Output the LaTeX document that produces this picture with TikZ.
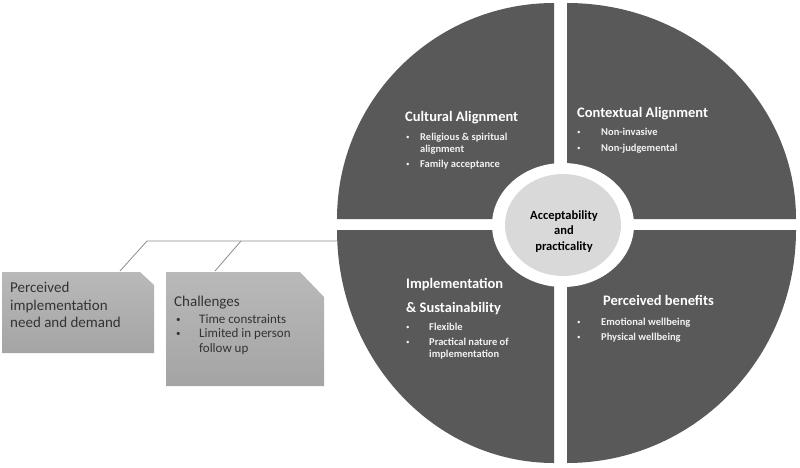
\documentclass[tikz,border=0pt]{standalone}
\usepackage{fontspec}
\setmainfont{Carlito}
\definecolor{quad}{HTML}{595959}
\definecolor{hub}{HTML}{D9D9D9}
\definecolor{boxtop}{HTML}{B9B9B9}
\definecolor{boxbot}{HTML}{A4A4A4}
\definecolor{wire}{HTML}{8C8C8C}
\definecolor{bullettxt}{HTML}{F2F2F2}
\tikzset{
  qtitle/.style={anchor=base west, inner sep=0pt, text=white, font=\fontsize{14.5}{17}\selectfont\bfseries},
  qitem/.style={anchor=base west, inner sep=0pt, text=bullettxt, font=\fontsize{10.5}{12}\selectfont\bfseries},
  qdot/.style={anchor=base west, inner sep=0pt, text=bullettxt, font=\fontsize{7}{8}\selectfont},
  hubtxt/.style={anchor=base, inner sep=0pt, text=black, font=\fontsize{12.5}{15}\selectfont\bfseries},
  btxt/.style={anchor=base west, inner sep=0pt, text=black!80, font=\fontsize{15}{18}\selectfont},
  bitem/.style={anchor=base west, inner sep=0pt, text=black!80, font=\fontsize{13}{15}\selectfont},
  bdot/.style={anchor=base west, inner sep=0pt, text=black!80, font=\fontsize{9}{10}\selectfont},
  wireline/.style={draw=wire, line width=0.8pt},
  gbox/.style={top color=boxtop, bottom color=boxbot}
}
\begin{document}
\begin{tikzpicture}[x=1pt,y=1pt]
\useasboundingbox (0,0) rectangle (800,-467);
% quadrants
\fill[quad] (554,-219) -- (337,-219) arc[start angle=180, end angle=90, x radius=217, y radius=216] -- cycle;
\fill[quad] (567,-219) -- (567,-3) arc[start angle=90, end angle=0, x radius=229, y radius=216] -- cycle;
\fill[quad] (554,-230) -- (337,-230) arc[start angle=180, end angle=270, x radius=217, y radius=233] -- cycle;
\fill[quad] (567,-230) -- (796,-230) arc[start angle=0, end angle=-90, x radius=229, y radius=233] -- cycle;
% hub
\fill[white] (563,-225) ellipse[x radius=71, y radius=62];
\fill[hub] (563,-225) ellipse[x radius=58, y radius=51];
\node[hubtxt] (hub1) at (564,-219) {Acceptability};
\node[hubtxt] (hub2) at (564,-234) {and};
\node[hubtxt] (hub3) at (564,-250) {practicality};
% cultural
\node[qtitle] (cult) at (405,-121) {Cultural Alignment};
\node[qdot] (cultb1) at (406,-139) {•};
\node[qitem] (cult1) at (420,-140) {Religious \& spiritual};
\node[qitem] (cult1b) at (420,-152) {alignment};
\node[qdot] (cultb2) at (406,-166) {•};
\node[qitem] (cult2) at (420,-167) {Family acceptance};
% contextual
\node[qtitle] (cont) at (577,-117) {Contextual Alignment};
\node[qdot] (contb1) at (577,-134) {•};
\node[qitem] (cont1) at (601,-135) {Non-invasive};
\node[qdot] (contb2) at (577,-150) {•};
\node[qitem] (cont2) at (601,-151) {Non-judgemental};
% implementation
\node[qtitle] (impl) at (406,-288) {Implementation};
\node[qtitle] (impl2) at (406,-312) {\& Sustainability};
\node[qdot] (implb1) at (406,-329) {•};
\node[qitem] (impl1) at (429,-330) {Flexible};
\node[qdot] (implb2) at (406,-344) {•};
\node[qitem] (impl3) at (429,-345) {Practical nature of};
\node[qitem] (impl4) at (429,-357) {implementation};
% benefits
\node[qtitle] (ben) at (603,-305) {Perceived benefits};
\node[qdot] (benb1) at (577,-324) {•};
\node[qitem] (ben1) at (601,-325) {Emotional wellbeing};
\node[qdot] (benb2) at (577,-339) {•};
\node[qitem] (ben2) at (601,-340) {Physical wellbeing};
% left boxes
\shade[gbox] (2,-272) -- (140,-272) -- (154,-285) -- (154,-353) -- (2,-353) -- cycle;
\shade[gbox] (166,-272) -- (300,-272) -- (324,-297) -- (324,-386) -- (166,-386) -- cycle;
\node[btxt] (pn1) at (10,-292) {Perceived};
\node[btxt] (pn2) at (10,-310) {implementation};
\node[btxt] (pn3) at (10,-327) {need and demand};
\node[btxt] (ch) at (174,-306) {Challenges};
\node[bdot] (chb1) at (176,-322) {•};
\node[bitem] (ch1) at (199,-323) {Time constraints};
\node[bdot] (chb2) at (176,-336) {•};
\node[bitem] (ch2) at (199,-337) {Limited in person};
\node[bitem] (ch3) at (199,-352) {follow up};
% connectors
\coordinate (b1top) at (120,-271);
\coordinate (b2top) at (215,-271);
\coordinate (j1) at (147,-241);
\coordinate (j2) at (241,-241);
\coordinate (qedge) at (338,-241);
\draw[wireline] (b1top) -- (j1) -- (qedge);
\draw[wireline] (b2top) -- (j2);
\end{tikzpicture}
\end{document}
